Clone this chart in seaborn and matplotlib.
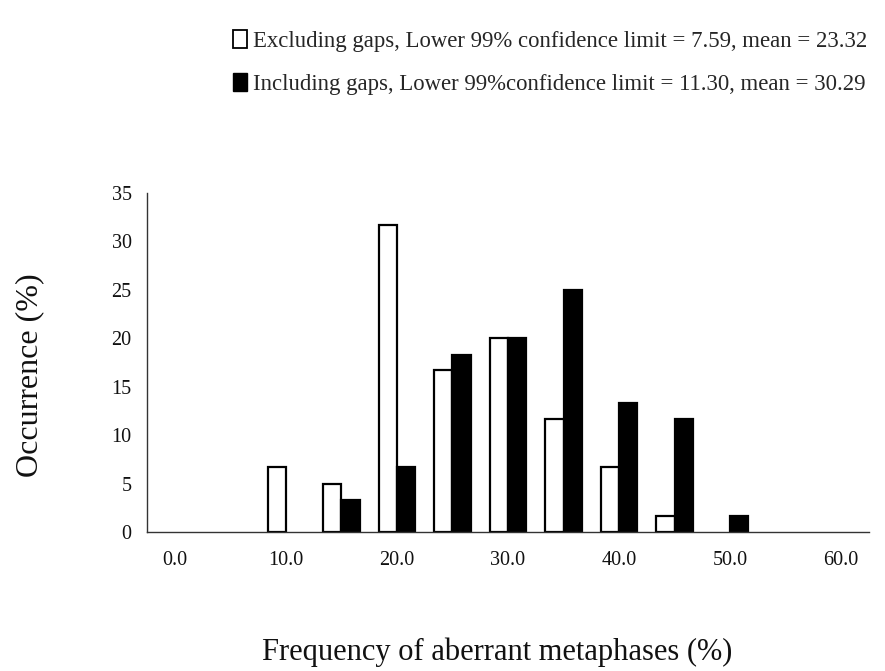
import matplotlib
matplotlib.use("Agg")
import matplotlib.pyplot as plt
from matplotlib.patches import Patch
from matplotlib.ticker import FixedLocator
import seaborn as sns
import pandas as pd

categories = [0, 5, 10, 15, 20, 25, 30, 35, 40, 45, 50, 55, 60]
excluding = [0, 0, 6.7, 5.0, 31.7, 16.7, 20.0, 11.7, 6.7, 1.7, 0, 0, 0]
including = [0, 0, 0, 3.3, 6.7, 18.3, 20.0, 25.0, 13.3, 11.7, 1.7, 0, 0]
series_names = ["Excluding gaps, Lower 99% confidence limit = 7.59, mean = 23.32",
                "Including gaps, Lower 99%confidence limit = 11.30, mean = 30.29"]
y_ticks = [0, 5, 10, 15, 20, 25, 30, 35]

cat_labels = [f"{c:.1f}" for c in categories]
df = pd.DataFrame({
    "cat": cat_labels * 2,
    "value": excluding + including,
    "series": [series_names[0]] * len(categories) + [series_names[1]] * len(categories),
})

sns.set_style("white")
plt.rcParams['font.family'] = ['Liberation Serif', 'DejaVu Serif']

fig = plt.figure(figsize=(8.85, 6.71), dpi=100)
ax = fig.add_axes([147/885, 1-532/671, (869-147)/885, (532-193)/671])

sns.barplot(data=df, x="cat", y="value", hue="series", order=cat_labels,
            hue_order=series_names, palette=["white", "black"], width=0.66,
            edgecolor="black", linewidth=1.6, ax=ax, legend=False, saturation=1)

# hide empty (zero-height) bars so they don't thicken the axis line
for p in ax.patches:
    if p.get_height() == 0:
        p.set_visible(False)

ax.set_xlim(-0.5, len(categories) - 0.5)
ax.set_ylim(0, 35)
ax.set_yticks(y_ticks)
ax.set_yticklabels([str(t) for t in y_ticks], fontsize=14.5)

# major ticks at category centres (labels every other), minor ticks at boundaries
ax.set_xticks(range(len(categories)))
ax.set_xticklabels([lab if i % 2 == 0 else "" for i, lab in enumerate(cat_labels)], fontsize=14.5)
ax.xaxis.set_minor_locator(FixedLocator([i + 0.5 for i in range(len(categories) - 1)]))
ax.tick_params(axis="x", which="major", length=0, pad=14)
ax.tick_params(axis="x", which="minor", length=5, width=0.8, direction="out", color="#333333")
ax.tick_params(axis="y", length=5, width=0.8, direction="out", color="#333333", pad=6)
ax.tick_params(axis="both", labelcolor="#111111")

for s in ["top", "right"]:
    ax.spines[s].set_visible(False)
for s in ["left", "bottom"]:
    ax.spines[s].set_color("#333333")
    ax.spines[s].set_linewidth(1.0)

ax.set_xlabel("")
ax.set_ylabel("")
fig.text(497/885, 1-652/671, "Frequency of aberrant metaphases (%)", fontsize=22,
         ha="center", va="center", color="#111111")
fig.text(30/885, 1-375/671, "Occurrence (%)", fontsize=23, rotation=90,
         ha="center", va="center", color="#111111")

handles = [Patch(facecolor="white", edgecolor="black", linewidth=1.3),
           Patch(facecolor="black", edgecolor="black")]
fig.legend(handles=handles, labels=series_names, loc="upper left",
           bbox_to_anchor=(224/885, 1-21/671), frameon=False, fontsize=16.4,
           handlelength=0.62, handleheight=0.8, handletextpad=0.25,
           labelspacing=0.95, borderaxespad=0)

fig.savefig("out.png", dpi=100, facecolor="white")
